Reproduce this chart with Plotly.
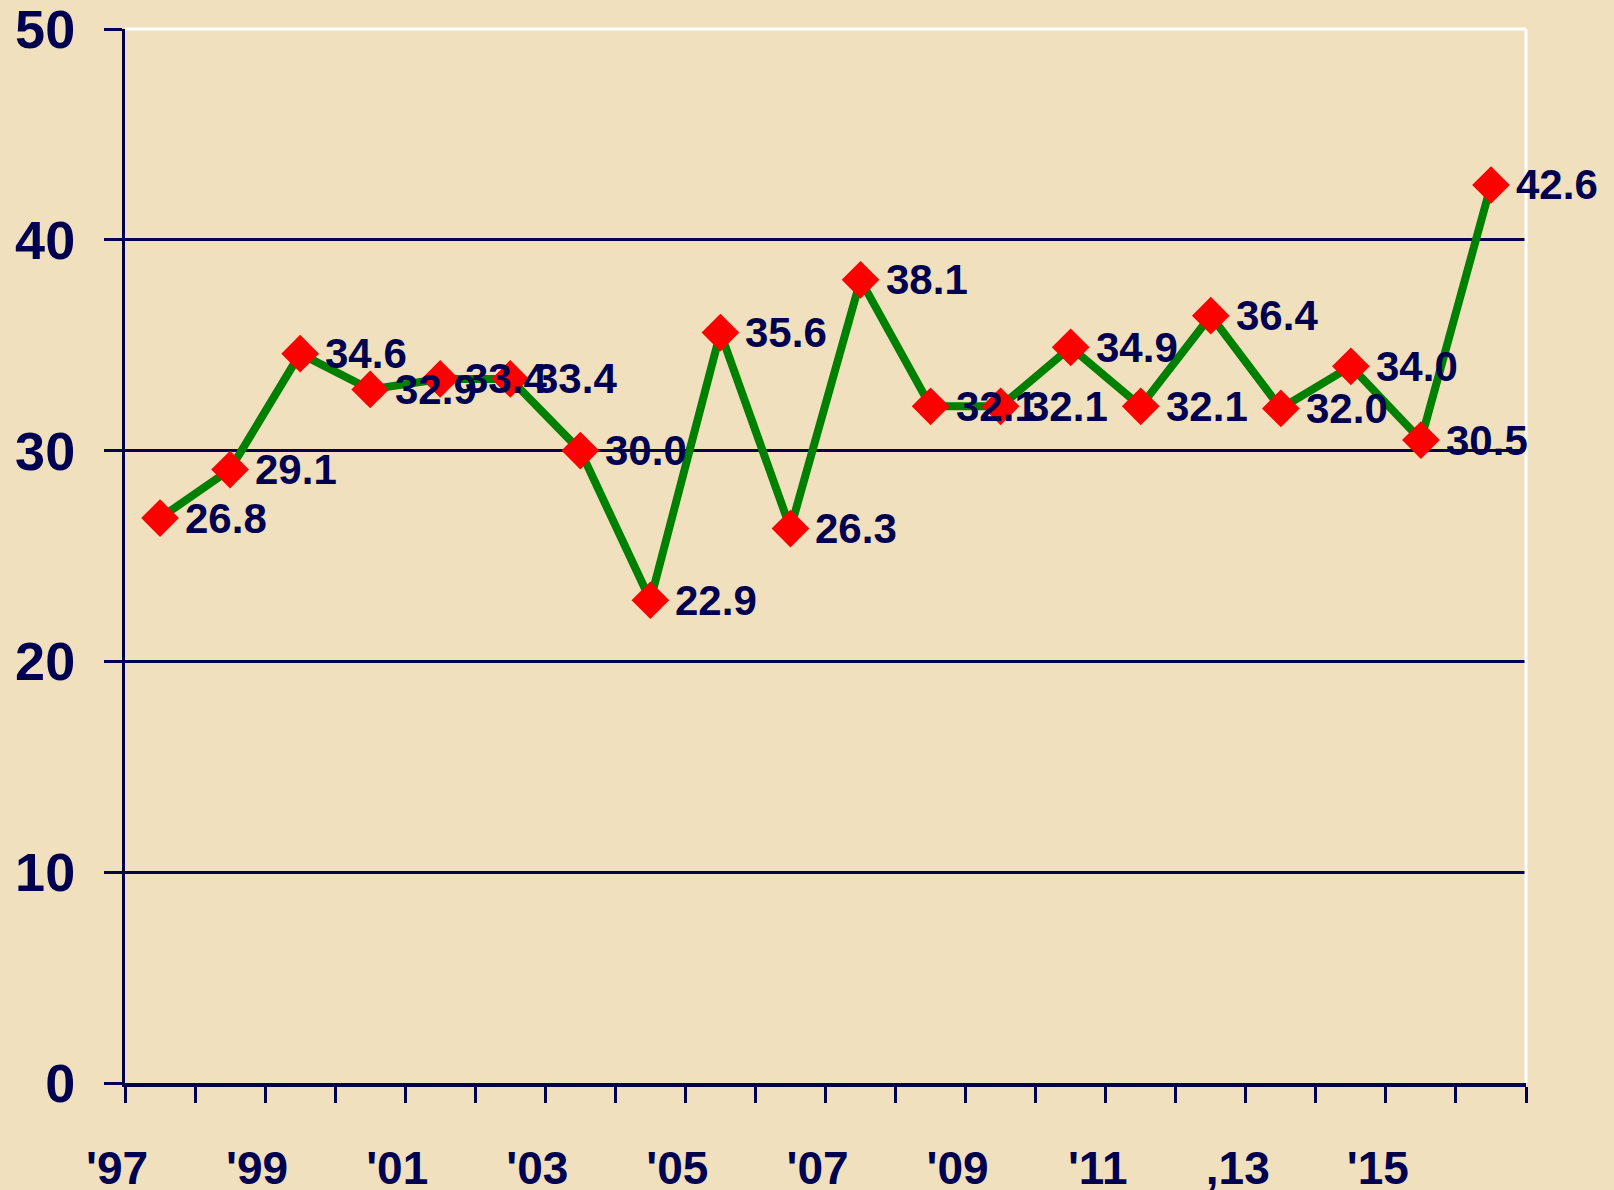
import plotly.graph_objects as go

# Yearly values, 1997-2016
years = list(range(1997, 2017))
values = [26.8, 29.1, 34.6, 32.9, 33.4, 33.4, 30.0, 22.9, 35.6, 26.3,
          38.1, 32.1, 32.1, 34.9, 32.1, 36.4, 32.0, 34.0, 30.5, 42.6]

# Category axis labels, one every second year
tick_labels = ["'97", "'99", "'01", "'03", "'05", "'07", "'09", "'11", ",13", "'15"]
y_ticks = [0, 10, 20, 30, 40, 50]

NAVY = "#000050"
BG = "#F1E0BE"
FONT = "Liberation Sans, Arial, sans-serif"

# each year sits in the middle of its category slot
xpos = [i + 0.5 for i in range(len(years))]
n_slots = len(years)

# ticks on every slot boundary, labels on every second one
x_tickvals = list(range(n_slots + 1))
x_ticktext = [""] * (n_slots + 1)
for k, lab in enumerate(tick_labels):
    x_ticktext[2 * k] = lab

fig = go.Figure()
fig.add_trace(go.Scatter(
    x=xpos, y=values,
    mode="lines+markers",
    line=dict(color="#008000", width=8),
    marker=dict(symbol="diamond", size=29, color="#FF0000", line=dict(width=0)),
    cliponaxis=False,
    showlegend=False,
    hoverinfo="skip",
))

for x, v in zip(xpos, values):
    fig.add_annotation(
        x=x, y=v, text=f"{v:.1f}", showarrow=False,
        xanchor="left", yanchor="middle", xshift=23,
        font=dict(family=FONT, size=42, color=NAVY, weight="bold"),
    )

fig.update_layout(
    width=1614, height=1190,
    margin=dict(l=125, r=88, t=29, b=107),
    paper_bgcolor=BG, plot_bgcolor=BG,
    xaxis=dict(
        range=[0, n_slots], tickvals=x_tickvals, ticktext=x_ticktext,
        ticks="outside", ticklen=16, tickwidth=3, tickcolor=NAVY,
        showline=True, linecolor=NAVY, linewidth=4,
        showgrid=False, zeroline=False, fixedrange=True,
        automargin=False, ticklabeloverflow="allow",
        ticklabelshift=-8, ticklabelstandoff=26,
        tickfont=dict(family=FONT, size=46, color=NAVY, weight="bold"),
    ),
    yaxis=dict(
        range=[0, 50], tickvals=y_ticks,
        ticks="outside", ticklen=18, tickwidth=3, tickcolor=NAVY,
        showline=True, linecolor=NAVY, linewidth=3,
        showgrid=True, gridcolor=NAVY, gridwidth=2.5, zeroline=False,
        automargin=False, ticklabeloverflow="allow",
        ticklabelstandoff=18,
        tickfont=dict(family=FONT, size=54, color=NAVY, weight="bold"),
    ),
    shapes=[
        dict(type="line", xref="paper", yref="paper", x0=0, x1=1, y0=1, y1=1,
             line=dict(color="white", width=3)),
        dict(type="line", xref="paper", yref="paper", x0=1, x1=1, y0=0, y1=1,
             line=dict(color="white", width=3)),
    ],
)

fig.write_html("out.html")
